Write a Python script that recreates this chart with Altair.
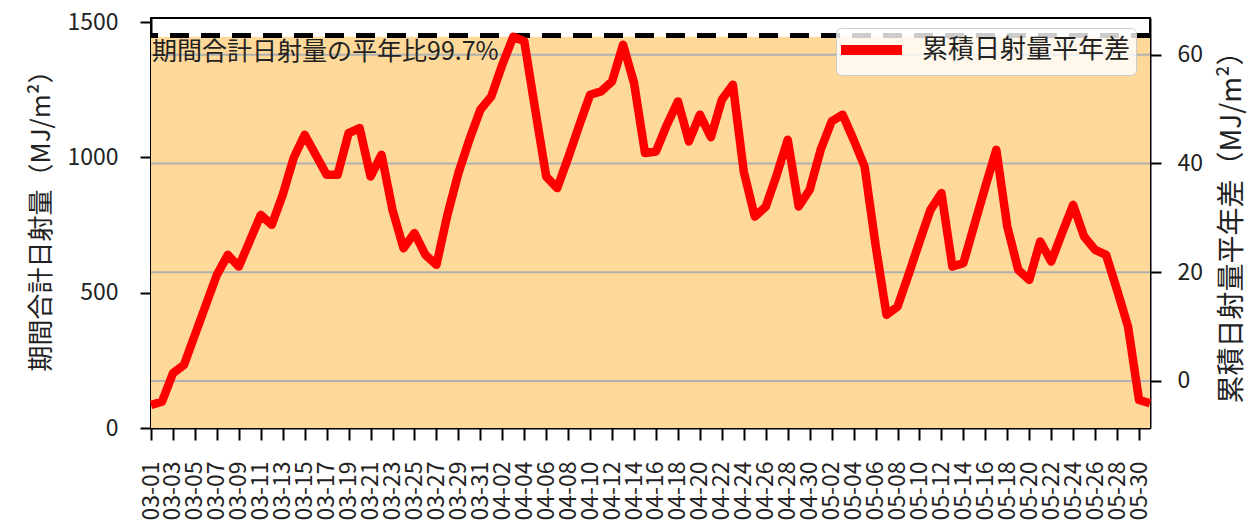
import altair as alt
import pandas as pd

# ---- data -------------------------------------------------------------
dates = list(pd.date_range("2024-03-01", "2024-05-31").strftime("%m-%d"))  # 92 days

anomaly = [
    -4.42, -3.81, 1.42, 2.94, 8.47, 13.99, 19.51, 23.19, 21.04, 25.77,
    30.55, 28.71, 34.24, 41.05, 45.28, 41.60, 37.92, 37.92, 45.59, 46.51,
    37.60, 41.60, 31.47, 24.42, 27.19, 23.19, 21.35, 30.55, 38.23, 44.36,
    49.88, 52.33, 58.16, 63.30, 62.50, 49.88, 37.60, 35.47, 41.05, 46.94,
    52.64, 53.25, 55.09, 61.84, 54.80, 41.91, 42.21, 47.12, 51.41, 44.05,
    48.96, 44.82, 51.72, 54.48, 38.47, 30.24, 32.08, 37.92, 44.36, 32.08,
    35.16, 42.52, 47.73, 48.96, 44.36, 39.44, 25.03, 12.15, 13.68, 19.51,
    25.58, 31.47, 34.55, 21.04, 21.66, 28.71, 35.71, 42.52, 28.40, 20.43,
    18.59, 25.64, 21.96, 27.24, 32.39, 26.56, 24.11, 23.19, 16.75, 9.99,
    -3.50, -4.10,
]

tick_labels = dates[::2]          # 03-01, 03-03, ... 05-30
left_ticks = [0, 500, 1000, 1500]
right_ticks = [0, 20, 40, 60]

period_total = 1446
normal_total = 1450
ratio_text = "期間合計日射量の平年比99.7%"
series_name = "累積日射量平年差"
left_title = "期間合計日射量（MJ/m²）"
right_title = "累積日射量平年差（MJ/m²）"

# ---- layout -----------------------------------------------------------
W, H = 999, 410
FONT = "Noto Sans CJK JP"
TXT = "#222222"

line_df = pd.DataFrame({"date": dates, "v": anomaly, "series": series_name})
bg_df = pd.DataFrame({"y0": [0], "total": [period_total]})
norm_df = pd.DataFrame({"normal": [normal_total], "t": [ratio_text]})
grid_df = pd.DataFrame({"g": right_ticks})

xscale = alt.Scale(type="point", padding=0)
left_scale = alt.Scale(domain=[0, 1515], nice=False)
right_scale = alt.Scale(domain=[-8.65, 66.75], nice=False, zero=False)

x_axis = alt.Axis(
    values=tick_labels,
    labelAngle=270, labelFont=FONT, labelFontSize=23, labelColor=TXT,
    labelPadding=21, tickSize=12, tickWidth=2, tickColor="black",
    domainColor="black", domainWidth=2, grid=False, title=None,
    labelOverlap=False,
)
left_axis = alt.Axis(
    values=left_ticks, orient="left", grid=False, format="d",
    labelFont=FONT, labelFontSize=23, labelColor=TXT, labelPadding=22,
    labelAlign="right", labelBaseline="middle",
    tickSize=11, tickWidth=2, tickColor="black",
    domainColor="black", domainWidth=2,
    title=left_title, titleFont=FONT, titleFontSize=26, titleFontWeight="normal",
    titleColor=TXT, titlePadding=12, titleY=196,
)
right_axis = alt.Axis(
    values=right_ticks, orient="right", grid=False, format="d",
    labelFont=FONT, labelFontSize=23, labelColor=TXT, labelPadding=16,
    labelAlign="left", labelBaseline="middle",
    tickSize=11, tickWidth=2, tickColor="black",
    domainColor="black", domainWidth=2,
    title=right_title, titleFont=FONT, titleFontSize=28, titleFontWeight="normal",
    titleColor=TXT, titlePadding=16, titleAngle=270, titleBaseline="top",
    titleY=202,
)

bg = alt.Chart(bg_df).mark_rect(color="#FFD999").encode(
    y=alt.Y("y0:Q", scale=left_scale, axis=left_axis),
    y2="total:Q",
)

grid = alt.Chart(grid_df).mark_rule(color="#b0b0b0", strokeWidth=2).encode(
    y=alt.Y("g:Q", scale=right_scale, axis=None),
)

dash = alt.Chart(norm_df).mark_rule(color="black", strokeWidth=5, strokeDash=[19, 12]).encode(
    y=alt.Y("normal:Q", scale=left_scale, axis=None),
)

label = alt.Chart(norm_df).mark_text(
    align="left", baseline="top", dy=4, font=FONT, fontSize=25, color=TXT
).encode(
    x=alt.value(1),
    y=alt.Y("normal:Q", scale=left_scale, axis=None),
    text="t:N",
)

line = alt.Chart(line_df).mark_line(strokeWidth=8.5, strokeJoin="round", strokeCap="butt").encode(
    x=alt.X("date:O", scale=xscale, axis=x_axis, sort=None),
    y=alt.Y("v:Q", scale=right_scale, axis=right_axis),
    color=alt.Color(
        "series:N",
        scale=alt.Scale(domain=[series_name], range=["#ff0000"]),
        legend=alt.Legend(
            title=None, orient="none", legendX=685, legendY=10,
            symbolType="M-1.417,0L3.667,0", symbolSize=576, symbolStrokeWidth=10,
            symbolStrokeColor="#ff0000", symbolFillColor="transparent",
            labelFont=FONT, labelFontSize=26, labelColor=TXT, labelOffset=47,
            labelLimit=0, padding=5, fillColor="rgba(255,255,255,0.8)",
            strokeColor="#cccccc", cornerRadius=5,
        ),
    ),
)

chart = alt.layer(bg, grid, dash, label, line).resolve_scale(y="independent").properties(
    width=W, height=H,
    autosize=alt.AutoSizeParams(type="none"),
    padding={"left": 143, "top": 10, "right": 100, "bottom": 94},
).configure_view(stroke="black", strokeWidth=2)

chart.save("out.html", embed_options={"renderer": "svg", "actions": False})
